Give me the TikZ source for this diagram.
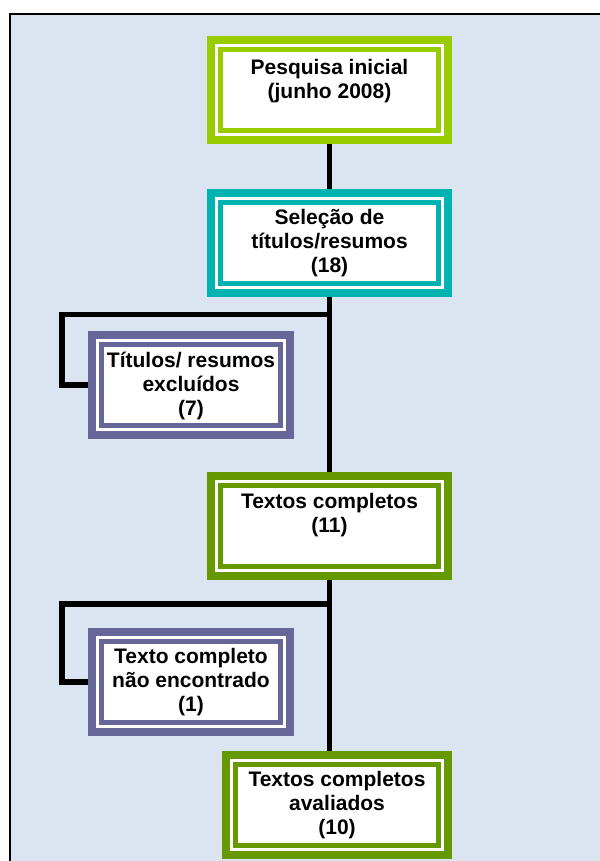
\documentclass[tikz,border=0pt]{standalone}
\usepackage{xcolor}
\usepackage{fontspec}
\setmainfont{Liberation Sans}
\usepackage{tikz}
\usetikzlibrary{positioning, backgrounds}

\definecolor{fundo}{HTML}{DBE5F1}
\definecolor{lima}{HTML}{99CC00}
\definecolor{turquesa}{HTML}{00B2B0}
\definecolor{roxo}{HTML}{666699}
\definecolor{verde}{HTML}{669900}

\tikzset{
  caixa/.style={preaction={draw=#1, line width=19pt}, draw=#1, fill=white,
    line width=5pt, double=white, double distance=3pt,
    minimum width=226pt, minimum height=89pt, inner sep=0pt},
  caixa estreita/.style={caixa=#1, minimum width=187pt},
  rotulo/.style={font=\fontsize{21}{24}\selectfont\bfseries, align=center, inner sep=0pt},
  ligacao/.style={line width=5.5pt},
}

\begin{document}
\begin{tikzpicture}[x=1pt, y=-1pt]
\useasboundingbox (0,0) rectangle (599,861);

\node[caixa=lima] (inicial) at (329.5,90) {};
\node[caixa=turquesa] (selecao) at (329.5,243) {};
\node[caixa estreita=roxo] (excluidos) at (191,385) {};
\node[caixa=verde] (completos) at (329.5,526) {};
\node[caixa estreita=roxo] (naoencontrado) at (191,682) {};
\node[caixa=verde, minimum width=211pt] (avaliados) at (337,805) {};

\node[rotulo, below=16.5pt of inicial.north] (t-inicial) {Pesquisa inicial\\(junho 2008)};
\node[rotulo, below=13.5pt of selecao.north] (t-selecao) {Seleção de\\títulos/resumos\\(18)};
\node[rotulo, below=13.5pt of excluidos.north] (t-excluidos) {Títulos/ resumos\\excluídos\\(7)};
\node[rotulo, below=14.5pt of completos.north] (t-completos) {Textos completos\\(11)};
\node[rotulo, below=13.5pt of naoencontrado.north] (t-naoencontrado) {Texto completo\\não encontrado\\(1)};
\node[rotulo, below=13.5pt of avaliados.north] (t-avaliados) {Textos completos\\avaliados\\(10)};

\begin{pgfonlayer}{background}
\draw[fill=fundo, line width=2.5pt] (10,14) rectangle (620,880);
\coordinate (ramo1) at (329.5,314.5);
\coordinate (ramo2) at (329.5,604);
\draw[ligacao] (inicial) -- (selecao);
\draw[ligacao] (selecao) -- (completos);
\draw[ligacao] (completos.south) -- (completos.south |- avaliados.north);
\draw[ligacao] (excluidos.west) -- ++(-33,0) |- (ramo1);
\draw[ligacao] (naoencontrado.west) -- ++(-33,0) |- (ramo2);
\end{pgfonlayer}

\end{tikzpicture}
\end{document}
